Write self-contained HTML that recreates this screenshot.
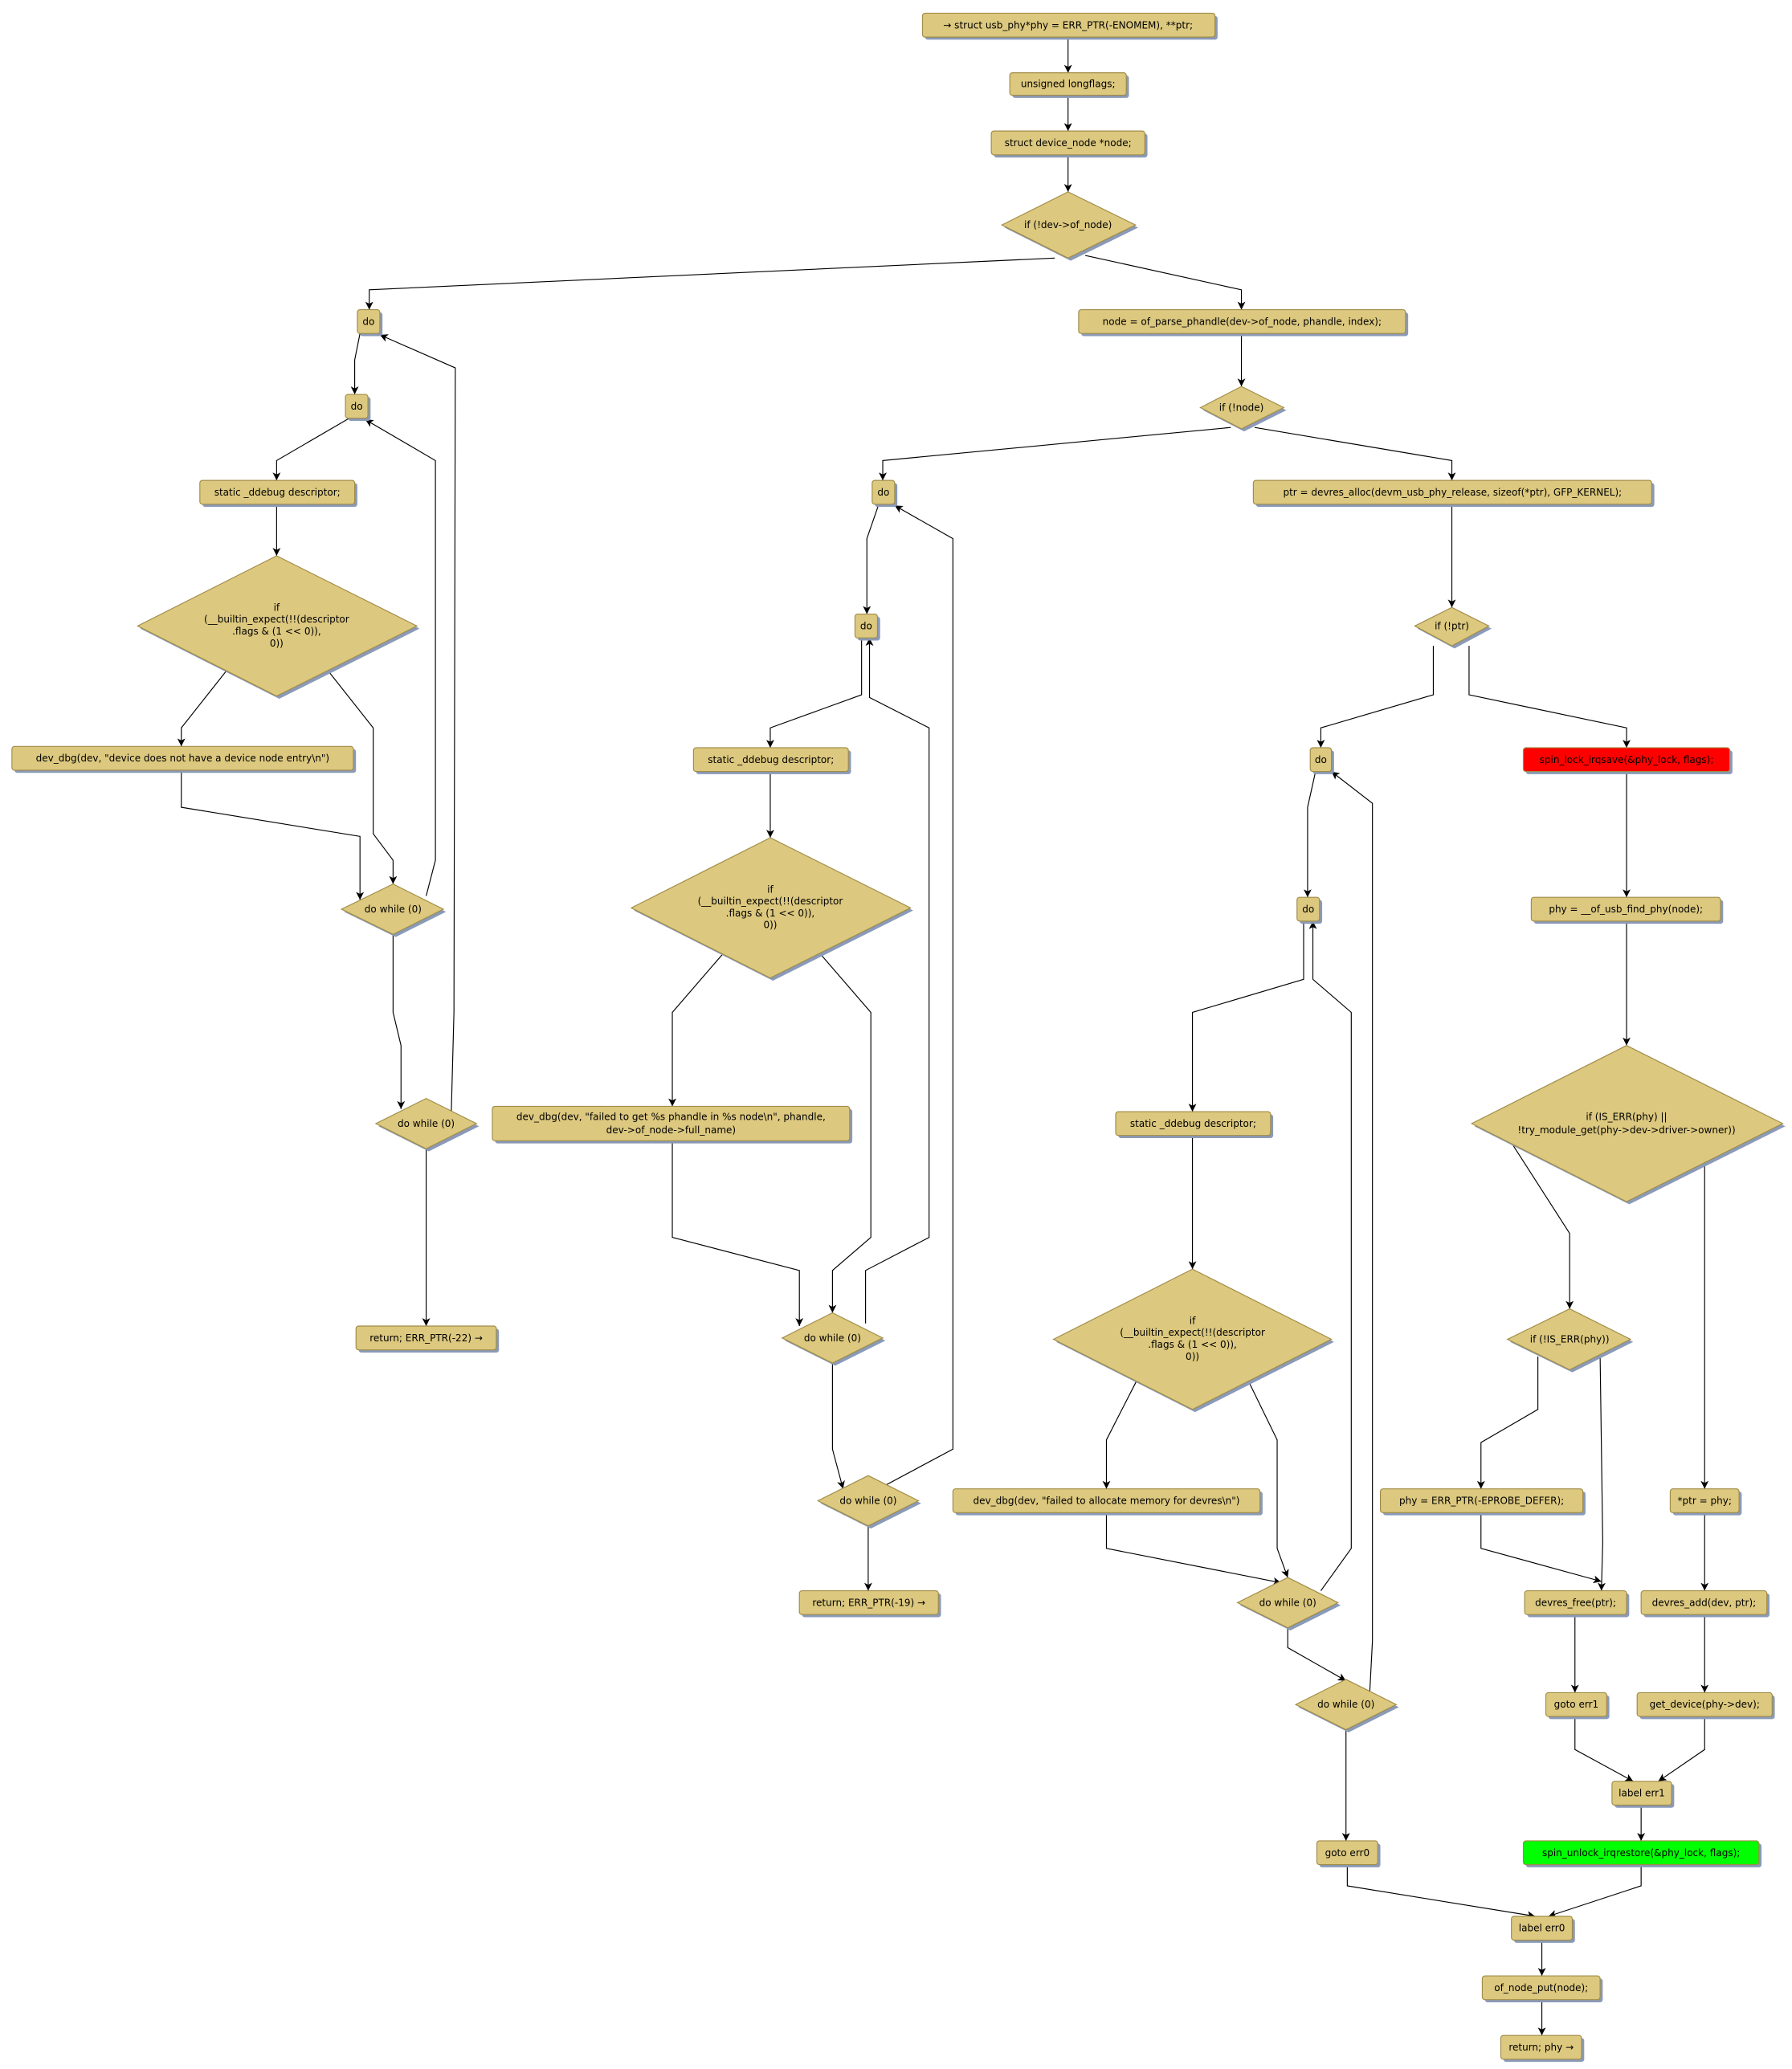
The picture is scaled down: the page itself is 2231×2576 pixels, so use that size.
<!DOCTYPE html>
<html><head><meta charset="utf-8"><style>
html,body{margin:0;padding:0;background:#fff;}
svg{display:block;}
text{font-family:"DejaVu Sans","Liberation Sans",sans-serif;font-size:7.3px;fill:#000;text-anchor:middle;dominant-baseline:central;}
.b{fill:#DCC87E;stroke:#A08C48;stroke-width:0.7;}
.s{fill:#8A9AB8;}
.e{fill:none;stroke:#000;stroke-width:0.7;marker-end:url(#a);}
</style></head><body>
<svg width="2231" height="2576" viewBox="0 0 2231 2576" xmlns="http://www.w3.org/2000/svg">
<defs><marker id="a" markerUnits="userSpaceOnUse" markerWidth="8" markerHeight="8" refX="6" refY="3" orient="auto"><path d="M0,0 L6,3 L0,6 L1.5,3 z" fill="#000"/></marker></defs>
<g transform="scale(1.6477)">
<!-- edges -->
<polyline class="e" points="807,28 807,55"/>
<polyline class="e" points="807,72 807,99"/>
<polyline class="e" points="807,117 807,145"/>
<polyline class="e" points="797,195 279,219 279,234"/>
<polyline class="e" points="820,193 938,219 938,234"/>
<polyline class="e" points="938,252 938,292"/>
<polyline class="e" points="272,252 268,272 268,298"/>
<polyline class="e" points="341,840 343,765 344,278 287,253"/>
<polyline class="e" points="264,316 209,348 209,363"/>
<polyline class="e" points="322,677 329,650 329,348 276,317"/>
<polyline class="e" points="209,381 209,420"/>
<polyline class="e" points="171,507 137,550 137,564"/>
<polyline class="e" points="248,507 282,550 282,630 297,650 297,668"/>
<polyline class="e" points="137,582 137,610 272,632 272,680"/>
<polyline class="e" points="297,706 297,765 303,790 303,838"/>
<polyline class="e" points="322,868 322,1002"/>
<polyline class="e" points="930,323 667,348 667,363"/>
<polyline class="e" points="948,323 1097,348 1097,363"/>
<polyline class="e" points="664,381 655,407 655,464"/>
<polyline class="e" points="664,1125 720,1095 720,407 676,382"/>
<polyline class="e" points="651,482 651,525 582,550 582,565"/>
<polyline class="e" points="654,1000 654,960 702,935 702,550 657,527 657,482"/>
<polyline class="e" points="582,583 582,633"/>
<polyline class="e" points="546,721 508,765 508,836"/>
<polyline class="e" points="620,721 658,765 658,935 629,960 629,992"/>
<polyline class="e" points="508,862 508,935 604,960 604,1002"/>
<polyline class="e" points="629,1030 629,1095 637,1125"/>
<polyline class="e" points="656,1153 656,1202"/>
<polyline class="e" points="1097,381 1097,459"/>
<polyline class="e" points="1083,488 1083,525 998,550 998,565"/>
<polyline class="e" points="1110,488 1110,525 1229,550 1229,565"/>
<polyline class="e" points="994,583 988,610 988,678"/>
<polyline class="e" points="1035,1278 1037,1240 1037,607 1006,583"/>
<polyline class="e" points="985,696 985,740 901,765 901,840"/>
<polyline class="e" points="998,1202 1021,1170 1021,765 992,740 992,696"/>
<polyline class="e" points="901,858 901,959"/>
<polyline class="e" points="859,1043 836,1088 836,1125"/>
<polyline class="e" points="943,1043 965,1088 965,1170 973,1192"/>
<polyline class="e" points="836,1143 836,1170 968,1196"/>
<polyline class="e" points="973,1230 973,1245 1017,1270"/>
<polyline class="e" points="1017,1307 1017,1391"/>
<polyline class="e" points="1229,583 1229,678"/>
<polyline class="e" points="1229,696 1229,790"/>
<polyline class="e" points="1143,865 1186,932 1186,989"/>
<polyline class="e" points="1288,878 1288,1125"/>
<polyline class="e" points="1162,1025 1162,1065 1119,1090 1119,1125"/>
<polyline class="e" points="1209,1023 1211,1165 1210,1202"/>
<polyline class="e" points="1119,1143 1119,1170 1210,1195"/>
<polyline class="e" points="1190,1220 1190,1279"/>
<polyline class="e" points="1190,1297 1190,1322 1234,1346"/>
<polyline class="e" points="1288,1297 1288,1322 1253,1346"/>
<polyline class="e" points="1240,1364 1240,1391"/>
<polyline class="e" points="1288,1143 1288,1202"/>
<polyline class="e" points="1288,1220 1288,1279"/>
<polyline class="e" points="1018,1409 1018,1425 1160,1448"/>
<polyline class="e" points="1240,1409 1240,1425 1170,1448"/>
<polyline class="e" points="1165,1466 1165,1493"/>
<polyline class="e" points="1165,1511 1165,1538"/>

<!-- boxes: shadow + box -->
<g id="boxes">
<rect class="s" x="699" y="12" width="221" height="18" rx="2"/><rect class="b" x="697" y="10" width="221" height="18" rx="2"/><text x="807" y="19">→ struct usb_phy*phy = ERR_PTR(-ENOMEM), **ptr;</text>
<rect class="s" x="765" y="57" width="88" height="17" rx="2"/><rect class="b" x="763" y="55" width="88" height="17" rx="2"/><text x="807" y="63.5">unsigned longflags;</text>
<rect class="s" x="751" y="101" width="116" height="18" rx="2"/><rect class="b" x="749" y="99" width="116" height="18" rx="2"/><text x="807" y="108">struct device_node *node;</text>
<rect class="s" x="272" y="236" width="17" height="18" rx="2"/><rect class="b" x="270" y="234" width="17" height="18" rx="2"/><text x="278.5" y="243">do</text>
<rect class="s" x="817" y="236" width="247" height="18" rx="2"/><rect class="b" x="815" y="234" width="247" height="18" rx="2"/><text x="938.5" y="243">node = of_parse_phandle(dev-&gt;of_node, phandle, index);</text>
<rect class="s" x="263" y="300" width="17" height="18" rx="2"/><rect class="b" x="261" y="298" width="17" height="18" rx="2"/><text x="269.5" y="307">do</text>
<rect class="s" x="153" y="365" width="117" height="18" rx="2"/><rect class="b" x="151" y="363" width="117" height="18" rx="2"/><text x="209.5" y="372">static _ddebug descriptor;</text>
<rect class="s" x="11" y="566" width="258" height="18" rx="2"/><rect class="b" x="9" y="564" width="258" height="18" rx="2"/><text x="138" y="573">dev_dbg(dev, "device does not have a device node entry\n")</text>
<rect class="s" x="271" y="1004" width="106" height="18" rx="2"/><rect class="b" x="269" y="1002" width="106" height="18" rx="2"/><text x="322" y="1011">return; ERR_PTR(-22) →</text>
<rect class="s" x="661" y="365" width="17" height="18" rx="2"/><rect class="b" x="659" y="363" width="17" height="18" rx="2"/><text x="667.5" y="372">do</text>
<rect class="s" x="949" y="365" width="301" height="18" rx="2"/><rect class="b" x="947" y="363" width="301" height="18" rx="2"/><text x="1097.5" y="372">ptr = devres_alloc(devm_usb_phy_release, sizeof(*ptr), GFP_KERNEL);</text>
<rect class="s" x="648" y="466" width="17" height="18" rx="2"/><rect class="b" x="646" y="464" width="17" height="18" rx="2"/><text x="654.5" y="473">do</text>
<rect class="s" x="526" y="567" width="117" height="18" rx="2"/><rect class="b" x="524" y="565" width="117" height="18" rx="2"/><text x="582.5" y="574">static _ddebug descriptor;</text>
<rect class="s" x="374" y="838" width="270" height="26" rx="2"/><rect class="b" x="372" y="836" width="270" height="26" rx="2"/><text x="507" y="844">dev_dbg(dev, "failed to get %s phandle in %s node\n", phandle,</text><text x="507" y="854">dev-&gt;of_node-&gt;full_name)</text>
<rect class="s" x="606" y="1204" width="105" height="18" rx="2"/><rect class="b" x="604" y="1202" width="105" height="18" rx="2"/><text x="656.5" y="1211">return; ERR_PTR(-19) →</text>
<rect class="s" x="992" y="567" width="16" height="18" rx="2"/><rect class="b" x="990" y="565" width="16" height="18" rx="2"/><text x="998" y="574">do</text>
<rect class="s" x="1153" y="567" width="156" height="18" rx="2"/><rect style="fill:#FF0000;stroke:#A08C48;stroke-width:0.7" x="1151" y="565" width="156" height="18" rx="2"/><text x="1229" y="574">spin_lock_irqsave(&amp;phy_lock, flags);</text>
<rect class="s" x="982" y="680" width="17" height="18" rx="2"/><rect class="b" x="980" y="678" width="17" height="18" rx="2"/><text x="988.5" y="687">do</text>
<rect class="s" x="1159" y="680" width="143" height="18" rx="2"/><rect class="b" x="1157" y="678" width="143" height="18" rx="2"/><text x="1228.5" y="687">phy = __of_usb_find_phy(node);</text>
<rect class="s" x="845" y="842" width="117" height="18" rx="2"/><rect class="b" x="843" y="840" width="117" height="18" rx="2"/><text x="901.5" y="849">static _ddebug descriptor;</text>
<rect class="s" x="722" y="1127" width="232" height="18" rx="2"/><rect class="b" x="720" y="1125" width="232" height="18" rx="2"/><text x="836" y="1134">dev_dbg(dev, "failed to allocate memory for devres\n")</text>
<rect class="s" x="1045" y="1127" width="153" height="18" rx="2"/><rect class="b" x="1043" y="1125" width="153" height="18" rx="2"/><text x="1119.5" y="1134">phy = ERR_PTR(-EPROBE_DEFER);</text>
<rect class="s" x="1264" y="1127" width="52" height="18" rx="2"/><rect class="b" x="1262" y="1125" width="52" height="18" rx="2"/><text x="1288" y="1134">*ptr = phy;</text>
<rect class="s" x="1154" y="1204" width="77" height="18" rx="2"/><rect class="b" x="1152" y="1202" width="77" height="18" rx="2"/><text x="1190.5" y="1211">devres_free(ptr);</text>
<rect class="s" x="1242" y="1204" width="95" height="18" rx="2"/><rect class="b" x="1240" y="1202" width="95" height="18" rx="2"/><text x="1287.5" y="1211">devres_add(dev, ptr);</text>
<rect class="s" x="1170" y="1281" width="46" height="18" rx="2"/><rect class="b" x="1168" y="1279" width="46" height="18" rx="2"/><text x="1191" y="1288">goto err1</text>
<rect class="s" x="1239" y="1281" width="102" height="18" rx="2"/><rect class="b" x="1237" y="1279" width="102" height="18" rx="2"/><text x="1288" y="1288">get_device(phy-&gt;dev);</text>
<rect class="s" x="1220" y="1348" width="45" height="18" rx="2"/><rect class="b" x="1218" y="1346" width="45" height="18" rx="2"/><text x="1240.5" y="1355">label err1</text>
<rect class="s" x="997" y="1393" width="46" height="18" rx="2"/><rect class="b" x="995" y="1391" width="46" height="18" rx="2"/><text x="1018" y="1400">goto err0</text>
<rect class="s" x="1153" y="1393" width="178" height="18" rx="2"/><rect style="fill:#00FF00;stroke:#A08C48;stroke-width:0.7" x="1151" y="1391" width="178" height="18" rx="2"/><text x="1240" y="1400">spin_unlock_irqrestore(&amp;phy_lock, flags);</text>
<rect class="s" x="1144" y="1450" width="46" height="18" rx="2"/><rect class="b" x="1142" y="1448" width="46" height="18" rx="2"/><text x="1165" y="1457">label err0</text>
<rect class="s" x="1122" y="1495" width="89" height="18" rx="2"/><rect class="b" x="1120" y="1493" width="89" height="18" rx="2"/><text x="1164.5" y="1502">of_node_put(node);</text>
<rect class="s" x="1136" y="1540" width="61" height="18" rx="2"/><rect class="b" x="1134" y="1538" width="61" height="18" rx="2"/><text x="1164.5" y="1547">return; phy →</text>
</g>

<!-- diamonds -->
<polygon class="s" points="809,147 860,172 809,197 759,172"/><polygon class="b" points="807,145 858,170 807,195 757,170"/><text x="807" y="170">if (!dev-&gt;of_node)</text>
<polygon class="s" points="940,294 972,310 940,326 909,310"/><polygon class="b" points="938,292 970,308 938,324 907,308"/><text x="938" y="308">if (!node)</text>

<polygon class="s" points="211,422 317,475 211,528 106,475"/><polygon class="b" points="209,420 315,473 209,526 104,473"/>
<text x="209" y="459">if</text><text x="209" y="468">(__builtin_expect(!!(descriptor</text><text x="209" y="477">.flags &amp; (1 &lt;&lt; 0)),</text><text x="209" y="486">0))</text>
<polygon class="s" points="299,670 337,689 299,708 260,689"/><polygon class="b" points="297,668 335,687 297,706 258,687"/><text x="297" y="687">do while (0)</text>
<polygon class="s" points="324,832 362,851 324,870 286,851"/><polygon class="b" points="322,830 360,849 322,868 284,849"/><text x="322" y="849">do while (0)</text>

<polygon class="s" points="1099,461 1127,475 1099,490 1071,475"/><polygon class="b" points="1097,459 1125,473 1097,488 1069,473"/><text x="1097" y="473">if (!ptr)</text>
<polygon class="s" points="584,635 690,688 584,741 479,688"/><polygon class="b" points="582,633 688,686 582,739 477,686"/>
<text x="582" y="672">if</text><text x="582" y="681">(__builtin_expect(!!(descriptor</text><text x="582" y="690">.flags &amp; (1 &lt;&lt; 0)),</text><text x="582" y="699">0))</text>
<polygon class="s" points="631,994 669,1013 631,1032 593,1013"/><polygon class="b" points="629,992 667,1011 629,1030 591,1011"/><text x="629" y="1011">do while (0)</text>
<polygon class="s" points="658,1117 696,1136 658,1155 620,1136"/><polygon class="b" points="656,1115 694,1134 656,1153 618,1134"/><text x="656" y="1134">do while (0)</text>

<polygon class="s" points="1231,792 1349,851 1231,910 1114,851"/><polygon class="b" points="1229,790 1347,849 1229,908 1112,849"/>
<text x="1229" y="844">if (IS_ERR(phy) ||</text><text x="1229" y="854">!try_module_get(phy-&gt;dev-&gt;driver-&gt;owner))</text>
<polygon class="s" points="903,961 1008,1014 903,1067 798,1014"/><polygon class="b" points="901,959 1006,1012 901,1065 796,1012"/>
<text x="901" y="998">if</text><text x="901" y="1007">(__builtin_expect(!!(descriptor</text><text x="901" y="1016">.flags &amp; (1 &lt;&lt; 0)),</text><text x="901" y="1025">0))</text>
<polygon class="s" points="1188,991 1234,1014 1188,1037 1141,1014"/><polygon class="b" points="1186,989 1232,1012 1186,1035 1139,1012"/><text x="1186" y="1012">if (!IS_ERR(phy))</text>
<polygon class="s" points="975,1194 1013,1213 975,1232 937,1213"/><polygon class="b" points="973,1192 1011,1211 973,1230 935,1211"/><text x="973" y="1211">do while (0)</text>
<polygon class="s" points="1019,1271 1057,1290 1019,1309 981,1290"/><polygon class="b" points="1017,1269 1055,1288 1017,1307 979,1288"/><text x="1017" y="1288">do while (0)</text>
</g>
</svg>
</body></html>
